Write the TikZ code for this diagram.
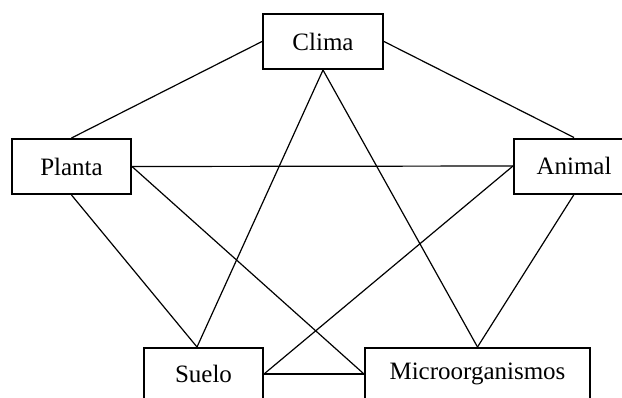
\documentclass[tikz,border=0pt]{standalone}
\usepackage{fontspec}
\setmainfont{Liberation Serif}
\begin{document}
\begin{tikzpicture}[x=0.5pt,y=-0.5pt,
  box/.style={draw, line width=1pt, rectangle, inner sep=0pt,
    font=\fontsize{12.5}{15}\selectfont, minimum height=27.5pt},
  link/.style={line width=0.6pt}]
\useasboundingbox (0,0) rectangle (622,397);
\clip (0,0) rectangle (622,397);
\node[box, minimum width=60pt] (Clima) at (323,41.5) {Clima};
\node[box, minimum width=59.5pt] (Planta) at (71.5,166.5) {Planta};
\node[box, minimum width=60pt] (Animal) at (574,166) {Animal};
\node[box, minimum width=59.5pt, minimum height=26pt] (Suelo) at (203.5,374) {\raisebox{0pt}[\height][\depth]{Suelo}};
\node[box, minimum width=112.5pt, minimum height=26pt] (Micro) at (477.5,374) {Microorganismos};
\coordinate (SueloTop) at ([xshift=-3.25pt]Suelo.north);
\draw[link] (Clima.west) -- (Planta.north);
\draw[link] (Clima.east) -- (Animal.north);
\draw[link] (Clima.south) -- (SueloTop);
\draw[link] (Clima.south) -- (Micro.north);
\draw[link] (Planta.east) -- (Animal.west);
\draw[link] (Planta.east) -- (Micro.west);
\draw[link] (Planta.south) -- (SueloTop);
\draw[link] (Animal.west) -- (Suelo.east);
\draw[link] (Animal.south) -- (Micro.north);
\draw[link] (Suelo.east) -- (Micro.west);
\end{tikzpicture}
\end{document}
